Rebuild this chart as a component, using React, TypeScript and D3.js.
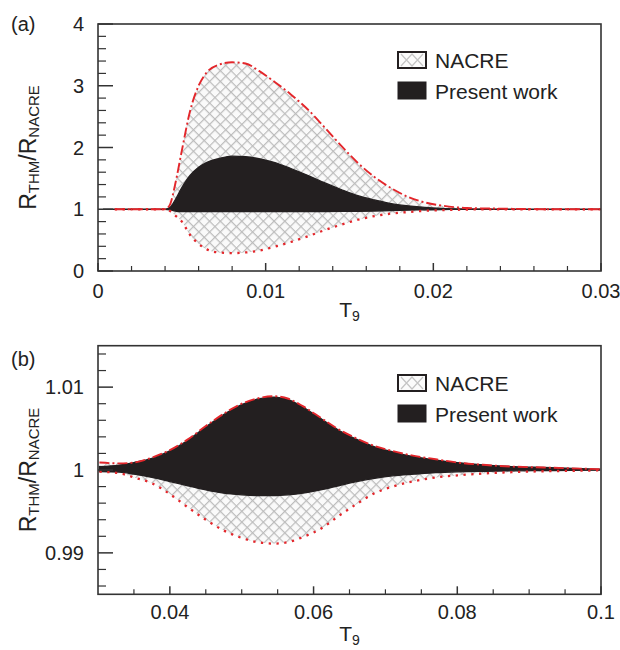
import React from 'react';
import * as d3 from 'd3';

// ---------- Panel (a) data ----------
const aNacreX = [0.0010, 0.0030, 0.0040, 0.0043, 0.0046, 0.0050, 0.0055, 0.0060, 0.0065, 0.0072, 0.0080, 0.0088, 0.0096, 0.0105, 0.0115, 0.0125, 0.0135, 0.0145, 0.0155, 0.0165, 0.0175, 0.0185, 0.0195, 0.0205, 0.0220, 0.0240, 0.0270, 0.0300];
const aNacreUpper = [1, 1, 1, 1.08, 1.4, 1.95, 2.6, 3.0, 3.22, 3.34, 3.38, 3.36, 3.24, 3.07, 2.86, 2.62, 2.33, 2.03, 1.75, 1.52, 1.34, 1.2, 1.11, 1.06, 1.02, 1.01, 1.0, 1.0];
const aNacreLower = [1, 1, 1, 0.97, 0.9, 0.8, 0.58, 0.44, 0.35, 0.3, 0.29, 0.3, 0.33, 0.39, 0.47, 0.56, 0.66, 0.75, 0.83, 0.89, 0.93, 0.955, 0.975, 0.985, 0.995, 1.0, 1.0, 1.0];
const aWorkX = [0.0003, 0.0030, 0.0040, 0.0043, 0.0046, 0.0050, 0.0055, 0.0060, 0.0065, 0.0072, 0.0080, 0.0088, 0.0096, 0.0105, 0.0115, 0.0125, 0.0135, 0.0145, 0.0155, 0.0165, 0.0175, 0.0185, 0.0195, 0.0205, 0.0220, 0.0240, 0.0270, 0.0300];
const aWorkUpper = [1, 1, 1, 1.03, 1.15, 1.35, 1.55, 1.68, 1.76, 1.82, 1.86, 1.85, 1.82, 1.76, 1.66, 1.55, 1.43, 1.32, 1.22, 1.15, 1.09, 1.055, 1.03, 1.015, 1.005, 1.0, 1.0, 1.0];
const aWorkLower = [1, 1, 1, 0.99, 0.97, 0.962, 0.962, 0.962, 0.962, 0.962, 0.962, 0.962, 0.962, 0.962, 0.962, 0.962, 0.963, 0.965, 0.968, 0.972, 0.978, 0.985, 0.99, 0.995, 0.998, 1.0, 1.0, 1.0];

const aYMajor = [0, 1, 2, 3, 4];
const aYLabels = ['0', '1', '2', '3', '4'];
const aXMajor = [0, 0.01, 0.02, 0.03];
const aXLabels = ['0', '0.01', '0.02', '0.03'];

// ---------- Panel (b) data ----------
const bX = [0.0302, 0.033, 0.035, 0.0375, 0.04, 0.0425, 0.045, 0.0475, 0.05, 0.0525, 0.0545, 0.0565, 0.0585, 0.061, 0.0635, 0.066, 0.0685, 0.071, 0.074, 0.077, 0.08, 0.084, 0.088, 0.092, 0.096, 0.0998];
const bNacreUpper = [1.0009, 1.0008, 1.0009, 1.0015, 1.0024, 1.0037, 1.0053, 1.0068, 1.008, 1.0087, 1.0089, 1.0086, 1.0077, 1.0063, 1.0049, 1.0038, 1.0029, 1.0023, 1.0017, 1.0013, 1.0009, 1.0006, 1.0004, 1.0003, 1.0002, 1.0001];
const bNacreLower = [0.9998, 0.9996, 0.9991, 0.9984, 0.9971, 0.9955, 0.994, 0.9927, 0.9918, 0.99125, 0.99112, 0.9913, 0.9919, 0.9929, 0.99445, 0.9959, 0.9972, 0.998, 0.99865, 0.9991, 0.99935, 0.9996, 0.99975, 0.99985, 0.9999, 0.99995];
const bWorkUpper = [1.0004, 1.0006, 1.0009, 1.0014, 1.0023, 1.0036, 1.0052, 1.0067, 1.0079, 1.0086, 1.0088, 1.0085, 1.0076, 1.0062, 1.0048, 1.0037, 1.0028, 1.0022, 1.0016, 1.0012, 1.0009, 1.0006, 1.0004, 1.0003, 1.0002, 1.0001];
const bWorkLower = [0.9998, 0.99975, 0.9995, 0.9991, 0.9986, 0.9981, 0.9976, 0.9972, 0.997, 0.9969, 0.9969, 0.997, 0.9972, 0.9976, 0.9981, 0.9986, 0.999, 0.9993, 0.9995, 0.99968, 0.99978, 0.99985, 0.9999, 0.99993, 0.99996, 0.99998];

const bYMajor = [0.99, 1.0, 1.01];
const bYLabels = ['0.99', '1', '1.01'];
const bXMajor = [0.04, 0.06, 0.08, 0.1];
const bXLabels = ['0.04', '0.06', '0.08', '0.1'];

const legendLabels = ['NACRE', 'Present work'];

const FONT = '"Liberation Sans", Arial, Helvetica, sans-serif';
const RED = '#e3262b';
const BLACK = '#231f20';
const AXIS = '#333';

type PanelProps = {
  tag: string;
  left: number; right: number; top: number; bottom: number;
  xDomain: [number, number]; yDomain: [number, number];
  xMajor: number[]; xLabels: string[]; xMinor: number[];
  yMajor: number[]; yLabels: string[]; yMinor: number[];
  nX: number[]; nUp: number[]; nLo: number[];
  wX: number[]; wUp: number[]; wLo: number[];
  legendTop: number;
  xLabelY: number; tickLabelY: number;
};

function Panel(p: PanelProps) {
  const x = d3.scaleLinear().domain(p.xDomain).range([p.left, p.right]);
  const y = d3.scaleLinear().domain(p.yDomain).range([p.bottom, p.top]);
  const curve = d3.curveMonotoneX;
  const nIdx = p.nX.map((_, i) => i);
  const wIdx = p.wX.map((_, i) => i);
  const nacreArea = d3.area<number>().x(i => x(p.nX[i])).y0(i => y(p.nLo[i])).y1(i => y(p.nUp[i])).curve(curve)(nIdx) || '';
  const workArea = d3.area<number>().x(i => x(p.wX[i])).y0(i => y(p.wLo[i])).y1(i => y(p.wUp[i])).curve(curve)(wIdx) || '';
  const upLine = d3.line<number>().x(i => x(p.nX[i])).y(i => y(p.nUp[i])).curve(curve)(nIdx) || '';
  const loLine = d3.line<number>().x(i => x(p.nX[i])).y(i => y(p.nLo[i])).curve(curve)(nIdx) || '';
  const clipId = 'clip-' + p.tag;
  const lx = 398, lw = 28;
  const midY = (p.top + p.bottom) / 2;
  const midX = (p.left + p.right) / 2;
  const lt = p.legendTop;
  return (
    <g>
      <defs>
        <clipPath id={clipId}>
          <rect x={p.left} y={p.top} width={p.right - p.left} height={p.bottom - p.top} />
        </clipPath>
      </defs>
      <g clipPath={`url(#${clipId})`}>
        <path d={nacreArea} fill="url(#hatch)" stroke="none" />
        <path d={workArea} fill={BLACK} stroke={BLACK} strokeWidth={1.3} />
        <path d={upLine} fill="none" stroke={RED} strokeWidth={1.9} strokeDasharray="10,3,2,3" />
        <path d={loLine} fill="none" stroke={RED} strokeWidth={2.3} strokeDasharray="2.3,5.5" />
      </g>
      {/* ticks */}
      {p.yMajor.map((v, i) => (
        <line key={'ym' + i} x1={p.left} x2={p.left + 15} y1={y(v)} y2={y(v)} stroke={AXIS} strokeWidth={1.5} />
      ))}
      {p.yMinor.map((v, i) => (
        <line key={'yn' + i} x1={p.left} x2={p.left + 8} y1={y(v)} y2={y(v)} stroke={AXIS} strokeWidth={1.2} />
      ))}
      {p.xMajor.map((v, i) => (
        <line key={'xm' + i} x1={x(v)} x2={x(v)} y1={p.bottom} y2={p.bottom - 8} stroke={AXIS} strokeWidth={1.5} />
      ))}
      {p.xMinor.map((v, i) => (
        <line key={'xn' + i} x1={x(v)} x2={x(v)} y1={p.bottom} y2={p.bottom - 5} stroke={AXIS} strokeWidth={1.2} />
      ))}
      <rect x={p.left} y={p.top} width={p.right - p.left} height={p.bottom - p.top} fill="none" stroke={AXIS} strokeWidth={1.6} />
      {/* tick labels */}
      {p.yMajor.map((v, i) => (
        <text key={'yl' + i} x={p.left - 14} y={y(v)} dy="0.36em" textAnchor="end" fontSize={20} fill="#222">{p.yLabels[i]}</text>
      ))}
      {p.xMajor.map((v, i) => (
        <text key={'xl' + i} x={x(v)} y={p.tickLabelY} textAnchor="middle" fontSize={20} fill="#222">{p.xLabels[i]}</text>
      ))}
      {/* axis titles */}
      <text x={midX} y={p.xLabelY} textAnchor="middle" fontSize={21} fill="#222">T<tspan fontSize={14} dy={4}>9</tspan></text>
      <text transform={`translate(36,${midY}) rotate(-90)`} textAnchor="middle" fontSize={23} fill="#222">
        R<tspan fontSize={15} dy={3}>THM</tspan><tspan fontSize={23} dy={-3}>/R</tspan><tspan fontSize={15} dy={3}>NACRE</tspan>
      </text>
      {/* legend */}
      <rect x={lx} y={lt} width={lw} height={16} fill="#fbfbfb" stroke="none" />
      <path d={`M${lx + 3},${lt + 2} L${lx + lw / 2},${lt + 14} L${lx + lw - 3},${lt + 2} M${lx + 3},${lt + 14} L${lx + lw / 2},${lt + 2} L${lx + lw - 3},${lt + 14}`} fill="none" stroke="#c4c4c4" strokeWidth={1.2} />
      <rect x={lx} y={lt} width={lw} height={16} fill="none" stroke={BLACK} strokeWidth={2} />
      <text x={435} y={lt + 16} fontSize={21} fill="#222">{legendLabels[0]}</text>
      <rect x={lx} y={lt + 30} width={lw} height={17} fill={BLACK} stroke={BLACK} strokeWidth={1} />
      <text x={435} y={lt + 47} fontSize={21} fill="#222">{legendLabels[1]}</text>
    </g>
  );
}

export default function App() {
  const aYMinor = d3.range(0, 4.0001, 0.2).filter(v => Math.abs(v - Math.round(v)) > 1e-6);
  const aXMinor = d3.range(0.002, 0.03, 0.002).filter(v => Math.abs(v * 100 - Math.round(v * 100)) > 1e-6);
  const bYMinor = d3.range(0.986, 1.0141, 0.002).filter(v => Math.abs(v * 100 - Math.round(v * 100)) > 1e-6);
  const bXMinor = d3.range(0.035, 0.1, 0.005).filter(v => Math.abs(v * 50 - Math.round(v * 50)) > 1e-6);
  return (
    <svg width={620} height={650} style={{ position: 'absolute', left: 0, top: 0, fontFamily: FONT, background: '#fff' }}>
      <defs>
        <pattern id="hatch" patternUnits="userSpaceOnUse" width={7.6} height={7.6} patternTransform="rotate(45)">
          <rect x={0} y={0} width={7.6} height={7.6} fill="#fafafa" />
          <rect x={0} y={0} width={1.2} height={7.6} fill="#bcbcbc" />
          <rect x={0} y={0} width={7.6} height={1.2} fill="#bcbcbc" />
        </pattern>
      </defs>
      <rect x={0} y={0} width={620} height={650} fill="#fff" />
      <text x={11} y={31} fontSize={20} fill="#222">(a)</text>
      <text x={11} y={366} fontSize={20} fill="#222">(b)</text>
      <Panel tag="a" left={98} right={601} top={24} bottom={271}
        xDomain={[0, 0.03]} yDomain={[0, 4]}
        xMajor={aXMajor} xLabels={aXLabels} xMinor={aXMinor}
        yMajor={aYMajor} yLabels={aYLabels} yMinor={aYMinor}
        nX={aNacreX} nUp={aNacreUpper} nLo={aNacreLower}
        wX={aWorkX} wUp={aWorkUpper} wLo={aWorkLower}
        legendTop={52} tickLabelY={298} xLabelY={317} />
      <Panel tag="b" left={98} right={601} top={345.7} bottom={594.3}
        xDomain={[0.03, 0.1]} yDomain={[0.985, 1.015]}
        xMajor={bXMajor} xLabels={bXLabels} xMinor={bXMinor}
        yMajor={bYMajor} yLabels={bYLabels} yMinor={bYMinor}
        nX={bX} nUp={bNacreUpper} nLo={bNacreLower}
        wX={bX} wUp={bWorkUpper} wLo={bWorkLower}
        legendTop={375} tickLabelY={619} xLabelY={641} />
    </svg>
  );
}
